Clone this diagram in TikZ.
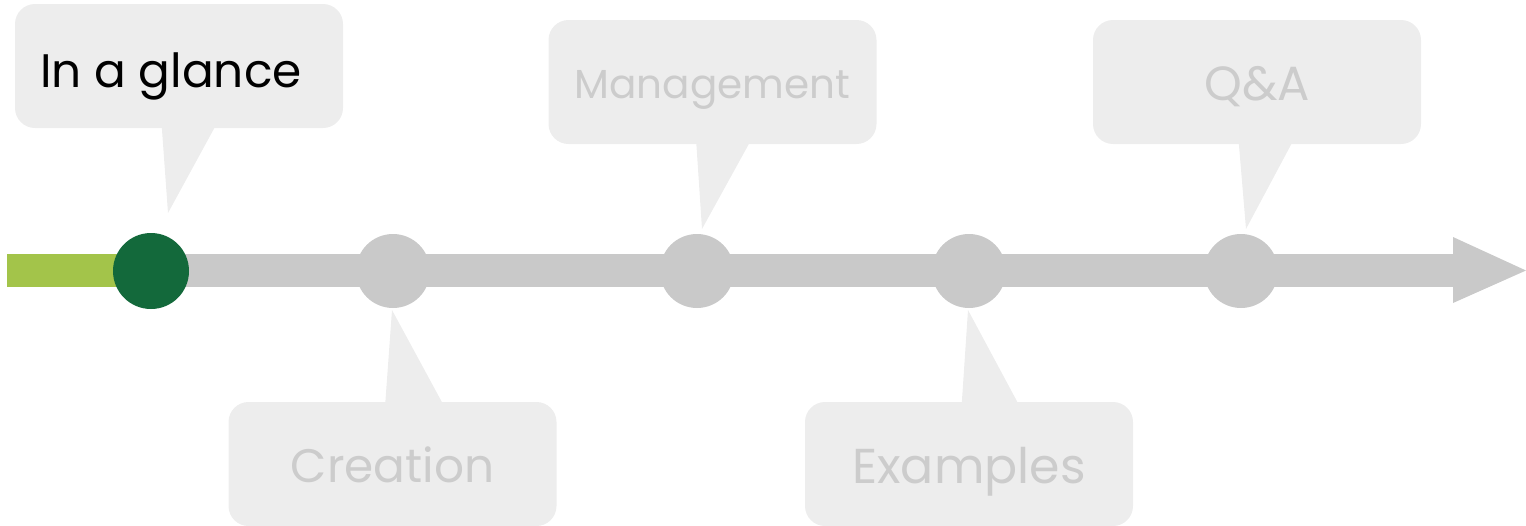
\documentclass[tikz,border=0pt]{standalone}
\usepackage{fontspec}
\setmainfont{Poppins}
\usetikzlibrary{calc}
\definecolor{boxbg}{HTML}{EDEDED}
\definecolor{lbl}{HTML}{CCCCCC}
\definecolor{bargray}{HTML}{C9C9C9}
\definecolor{barlime}{HTML}{A3C44A}
\definecolor{darkgreen}{HTML}{13693B}
\begin{document}
\begin{tikzpicture}[x=1pt,y=-1pt,
  callout/.style={fill=boxbg, rounded corners=20pt, minimum width=328pt, minimum height=124pt, inner sep=0pt, text=lbl, font=\fontsize{48}{56}\selectfont, text depth=0pt, text height=37pt},
  tail/.style={fill=boxbg},
  dot/.style={circle, fill=bargray, minimum size=74pt, inner sep=0pt},
  activedot/.style={circle, fill=darkgreen, minimum size=76pt, inner sep=0pt}]
\useasboundingbox (0,0) rectangle (1526,525);
% circles positions
\coordinate (c0) at (151,271);
\coordinate (c1) at (393,271);
\coordinate (c2) at (697,271);
\coordinate (c3) at (969,271);
\coordinate (c4) at (1241,271);
% callout boxes
\node[callout, text=black, font=\fontsize{47}{56}\selectfont, text height=42pt] (b0) at (179,66) {In a glance\kern16pt};
\node[callout, font=\fontsize{40.5}{48}\selectfont, text height=32pt] (b2) at (712.5,82) {Management};
\node[callout, text height=36pt] (b4) at (1257,82) {Q\&A};
\node[callout, font=\fontsize{47}{56}\selectfont] (b1) at (392.5,464) {Creation};
\node[callout, font=\fontsize{49}{56}\selectfont, text height=38pt] (b3) at (969,464) {Examples};
% tail tips
\coordinate (t0) at (168,213);
\coordinate (t2) at (702,229);
\coordinate (t4) at (1246,229);
\coordinate (t1) at (392,310);
\coordinate (t3) at (968,310);
% tails
\fill[tail] ($(b0.south west)+(147,-1)$) -- (t0) -- ($(b0.south west)+(200,-1)$) -- cycle;
\fill[tail] ($(b2.south west)+(148,-1)$) -- (t2) -- ($(b2.south west)+(201,-1)$) -- cycle;
\fill[tail] ($(b4.south west)+(146,-1)$) -- (t4) -- ($(b4.south west)+(199,-1)$) -- cycle;
\fill[tail] ($(b1.north west)+(157,1)$) -- (t1) -- ($(b1.north west)+(214,1)$) -- cycle;
\fill[tail] ($(b3.north west)+(157,1)$) -- (t3) -- ($(b3.north west)+(213,1)$) -- cycle;
% bar
\coordinate (barstart) at (7,270.5);
\coordinate (headbase) at (1453,270.5);
\coordinate (tip) at (1526,270.5);
\fill[barlime] ($(barstart)+(0,-16.5)$) rectangle ($(c0)+(0,16)$);
\fill[bargray] ($(c0)+(0,-17)$) rectangle ($(headbase)+(0.5,16.5)$);
\fill[bargray] ($(headbase)+(0,-33.5)$) -- (tip) -- ($(headbase)+(0,32.5)$) -- cycle;
% dots
\node[activedot] (d0) at (c0) {};
\node[dot] (d1) at (c1) {};
\node[dot] (d2) at (c2) {};
\node[dot] (d3) at (c3) {};
\node[dot] (d4) at (c4) {};
\end{tikzpicture}
\end{document}
